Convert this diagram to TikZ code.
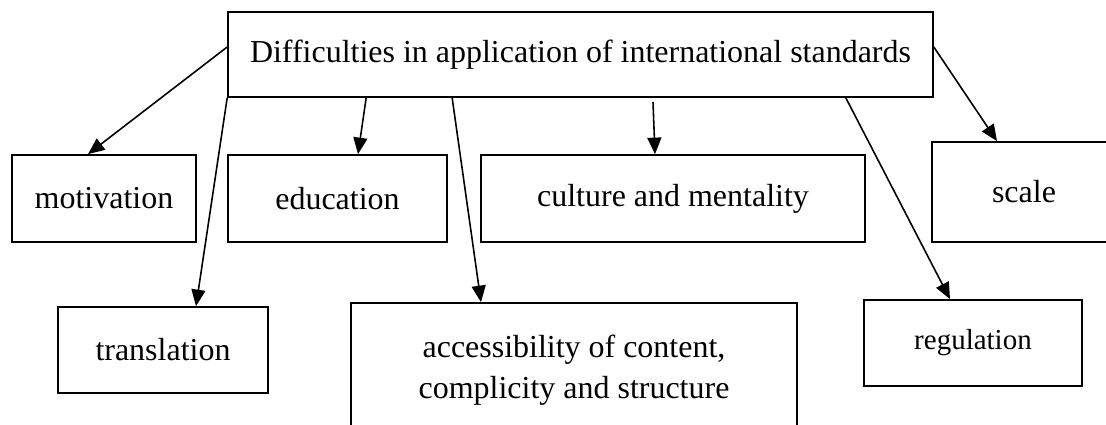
\documentclass[tikz,border=0pt]{standalone}
\usepackage{fontspec}
\setmainfont{Liberation Serif}
\usetikzlibrary{arrows.meta}

\begin{document}
\begin{tikzpicture}[x=0.02cm,y=-0.02cm,
		box/.style={draw,line width=1pt,inner sep=0pt,align=center,font=\fontsize{18.2}{23}\selectfont},
		link/.style={line width=0.9pt,-{Triangle[length=0.33cm,width=0.28cm]}}]
					\useasboundingbox (0,0) rectangle (1106,425);
					\clip (0,0) rectangle (1106,425);
					\node[box,minimum width=14.1cm,minimum height=1.7cm] (diff) at (580.5,54.5) {Difficulties in application of international standards};
					\node[box,minimum width=3.68cm,minimum height=1.74cm] (motiv) at (104,198.5) {motivation};
					\node[box,minimum width=4.38cm,minimum height=1.74cm] (educ) at (337.5,198.5) {education};
					\node[box,minimum width=7.68cm,minimum height=1.74cm] (cult) at (673,198.5) {culture and mentality};
					\node[box,minimum width=3.68cm,minimum height=2cm] (scal) at (1024,192) {scale};
					\node[box,minimum width=4.2cm,minimum height=1.72cm] (trans) at (163,350) {translation};
					\node[box,minimum width=8.92cm,minimum height=2.68cm] (access) at (574,370) {accessibility of content,\\complicity and structure};
					\node[box,minimum width=4.36cm,minimum height=1.72cm,font=\fontsize{16.5}{20}\selectfont] (regul) at (973,343) {regulation};
					\draw[link] ([yshift=0.15cm]diff.west) -- ([xshift=-0.32cm]motiv.north);
					\draw[link] (diff.south west) -- ([xshift=0.66cm]trans.north);
					\draw[link] ([xshift=2.78cm]diff.south west) -- ([xshift=0.41cm]educ.north);
					\draw[link] ([xshift=4.5cm]diff.south west) -- ([xshift=-1.86cm]access.north);
					\draw[link] ([xshift=1.45cm,yshift=-0.08cm]diff.south) -- ([xshift=-0.36cm]cult.north);
					\draw[link] ([xshift=-1.76cm]diff.south east) -- ([xshift=-0.46cm]regul.north);
					\draw[link] ([yshift=0.15cm]diff.east) -- ([xshift=-0.54cm]scal.north);
				\end{tikzpicture}
\end{document}
